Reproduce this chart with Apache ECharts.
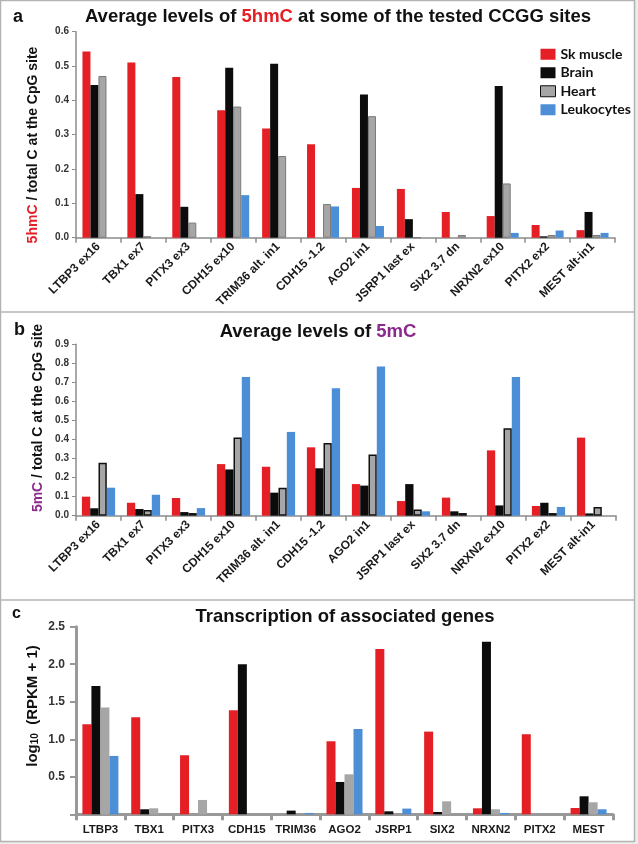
<!DOCTYPE html>
<html><head><meta charset="utf-8">
<script src="https://cdn.jsdelivr.net/npm/echarts@6/dist/echarts.min.js"></script>
<style>html,body{margin:0;padding:0;background:#fff}#c{width:638px;height:844px}</style>
</head><body><div id="c"></div>
<script>
const sites = ['LTBP3 ex16','TBX1 ex7','PITX3 ex3','CDH15 ex10','TRIM36 alt. in1','CDH15 -1.2','AGO2 in1','JSRP1 last ex','SIX2 3.7 dn','NRXN2 ex10','PITX2 ex2','MEST alt-in1'];
const genes = ['LTBP3','TBX1','PITX3','CDH15','TRIM36','AGO2','JSRP1','SIX2','NRXN2','PITX2','MEST'];
const seriesNames = ['Sk muscle','Brain','Heart','Leukocytes'];

// panel a: 5hmC / total C
const hmcSk = [0.542,0.510,0.468,0.371,0.318,0.272,0.145,0.142,0.075,0.063,0.037,0.022];
const hmcBrain = [0.445,0.127,0.090,0.495,0.507,0,0.417,0.054,0,0.442,0.004,0.075];
const hmcHeart = [0.471,0.004,0.044,0.382,0.238,0.098,0.354,0,0.008,0.158,0.008,0.008];
const hmcLeuk = [0,0,0,0.124,0,0.091,0.034,0,0,0.014,0.021,0.014];
const hmcTicks = [0,0.6,0.1];

// panel b: 5mC / total C
const mcSk = [0.100,0.068,0.093,0.271,0.257,0.359,0.166,0.077,0.095,0.343,0.051,0.410];
const mcBrain = [0.039,0.035,0.019,0.243,0.121,0.249,0.158,0.166,0.023,0.054,0.068,0.012];
const mcHeart = [0.278,0.030,0.014,0.410,0.147,0.382,0.322,0.033,0.014,0.459,0.014,0.046];
const mcLeuk = [0.147,0.110,0.040,0.728,0.440,0.669,0.783,0.023,0,0.728,0.046,0];
const mcTicks = [0,0.9,0.1];

// panel c: log10(RPKM+1)
const txSk = [1.200,1.293,0.787,1.387,0,0.973,2.204,1.102,0.080,1.067,0.084];
const txBrain = [1.711,0.067,0,2.000,0.049,0.431,0.040,0.031,2.298,0,0.240];
const txHeart = [1.422,0.080,0.191,0,0,0.533,0,0.173,0.067,0,0.160];
const txLeuk = [0.778,0,0,0,0.018,1.138,0.076,0,0.018,0,0.067];
const txTicks = [0,2.5,0.5];

const RED='#e41f26', BLACK='#0c0c0c', GRAY='#a6a6a6', BLUE='#4d8fd6', PURPLE='#8a2a8c';
const AX='#8c8c8c';
const FONT='"Liberation Sans", Arial, sans-serif';

const chart = echarts.init(document.getElementById('c'), null, {renderer:'canvas'});

function xCat(grid, data, rotate, opts){
  return Object.assign({
    type:'category', gridIndex:grid, data:data,
    axisLine:{lineStyle:{color:AX,width:1.5}},
    axisTick:{show:true,length:5,lineStyle:{color:AX,width:1.5}},
    axisLabel:{interval:0, rotate:rotate, margin:7, fontFamily:FONT, fontWeight:'bold', fontSize:12, color:'#1a1a1a'}
  }, opts||{});
}
function yVal(grid, t, opts){
  return Object.assign({
    type:'value', gridIndex:grid, min:t[0], max:t[1], interval:t[2],
    splitLine:{show:false},
    axisLine:{show:true,lineStyle:{color:AX,width:1.5}},
    axisTick:{show:true,length:4,lineStyle:{color:AX,width:1}},
    axisLabel:{margin:7, fontFamily:FONT, fontWeight:'bold', fontSize:10, color:'#333', formatter:v=>v.toFixed(1)}
  }, opts||{});
}
function bars(name, grid, data, color, w, extra){
  return {
    name:name, type:'bar', xAxisIndex:grid, yAxisIndex:grid, data:data,
    barWidth:w, barGap:'0%', silent:true,
    itemStyle:Object.assign({color:color}, extra||{})
  };
}
function vText(x, y, text, rich){
  return {type:'text', x:x, y:y, rotation:Math.PI/2,
    style:{text:text, textAlign:'center', textVerticalAlign:'middle', rich:rich}};
}
const B14 = 'bold 14px '+FONT;

const option = {
  animation:false,
  textStyle:{fontFamily:FONT},
  graphic:[
    {type:'rect', shape:{x:0,y:0,width:638,height:844}, style:{fill:'#ececec'}, z:-10},
    {type:'rect', shape:{x:0.5,y:0.5,width:634,height:841}, style:{fill:'#fff',stroke:'#b3b3b3',lineWidth:1.5}, z:-9},
    {type:'line', shape:{x1:0,y1:312,x2:635,y2:312}, style:{stroke:'#b3b3b3',lineWidth:1.5}, z:-8},
    {type:'line', shape:{x1:0,y1:600,x2:635,y2:600}, style:{stroke:'#b3b3b3',lineWidth:1.5}, z:-8},
    {type:'text', x:13, y:17, style:{text:'a', font:'bold 18px '+FONT, fill:'#111', textVerticalAlign:'middle'}},
    {type:'text', x:14, y:330, style:{text:'b', font:'bold 18px '+FONT, fill:'#111', textVerticalAlign:'middle'}},
    {type:'text', x:12, y:614, style:{text:'c', font:'bold 16px '+FONT, fill:'#111', textVerticalAlign:'middle'}},
    {type:'text', x:338, y:17, style:{text:'{k|Average levels of }{r|5hmC}{k| at some of the tested CCGG sites}', textAlign:'center', textVerticalAlign:'middle',
      rich:{k:{font:'bold 18.5px '+FONT, fill:'#111'}, r:{font:'bold 18.5px '+FONT, fill:RED}}}},
    {type:'text', x:318, y:332, style:{text:'{k|Average levels of }{p|5mC}', textAlign:'center', textVerticalAlign:'middle',
      rich:{k:{font:'bold 18.5px '+FONT, fill:'#111'}, p:{font:'bold 18.5px '+FONT, fill:PURPLE}}}},
    {type:'text', x:345, y:617, style:{text:'Transcription of associated genes', textAlign:'center', textVerticalAlign:'middle',
      font:'bold 18.5px '+FONT, fill:'#111'}},
    vText(33, 145, '{r|5hmC}{k| / total C at the CpG site}', {r:{font:B14, fill:RED}, k:{font:B14, fill:'#111'}}),
    vText(38, 418, '{p|5mC}{k| / total C at the CpG site}', {p:{font:B14, fill:PURPLE}, k:{font:B14, fill:'#111'}}),
    vText(33, 706, '{k|log}{s|10}{k|  (RPKM + 1)}', {k:{font:'bold 15px '+FONT, fill:'#111'}, s:{font:'bold 10px '+FONT, fill:'#111', verticalAlign:'bottom'}})
  ],
  legend:{
    left:535, top:40, orient:'vertical', itemWidth:15, itemHeight:11, itemGap:0,
    selectedMode:false,
    textStyle:{fontFamily:'Lato, "Open Sans", sans-serif', fontWeight:'bold', fontSize:14, color:'#111', lineHeight:18.5},
    data:[
      {name:'Sk muscle', icon:'rect', itemStyle:{color:RED}},
      {name:'Brain', icon:'rect', itemStyle:{color:BLACK}},
      {name:'Heart', icon:'rect', itemStyle:{color:GRAY, borderColor:'#111', borderWidth:1}},
      {name:'Leukocytes', icon:'rect', itemStyle:{color:BLUE}}
    ]
  },
  grid:[
    {left:76, top:31.7, width:539, height:206},
    {left:76, top:344.3, width:540, height:171.4},
    {left:76, top:626.7, width:537, height:187.6}
  ],
  xAxis:[
    xCat(0, sites, 45),
    xCat(1, sites, 45),
    xCat(2, genes, 0, {
      axisLine:{lineStyle:{color:'#999',width:3}},
      axisTick:{show:true,length:6,lineStyle:{color:'#999',width:3}},
      axisLabel:{interval:0, margin:10, fontFamily:FONT, fontWeight:'bold', fontSize:11.5, color:'#1a1a1a'}
    })
  ],
  yAxis:[
    yVal(0, hmcTicks),
    yVal(1, mcTicks),
    yVal(2, txTicks, {
      axisLine:{show:true,lineStyle:{color:'#999',width:3}},
      axisTick:{show:true,length:6,lineStyle:{color:'#999',width:2}},
      axisLabel:{margin:11, fontFamily:FONT, fontWeight:'bold', fontSize:12, color:'#333', formatter:v=> v===0 ? '' : v.toFixed(1)}
    })
  ],
  series:[
    bars('Sk muscle',0,hmcSk,RED,8),
    bars('Brain',0,hmcBrain,BLACK,8),
    bars('Heart',0,hmcHeart,GRAY,8,{borderColor:'#7a7a7a',borderWidth:1}),
    bars('Leukocytes',0,hmcLeuk,BLUE,8),
    bars('Sk muscle',1,mcSk,RED,8.3),
    bars('Brain',1,mcBrain,BLACK,8.3),
    bars('Heart',1,mcHeart,GRAY,8.3,{borderColor:'#111',borderWidth:1.5}),
    bars('Leukocytes',1,mcLeuk,BLUE,8.3),
    bars('Sk muscle',2,txSk,RED,9),
    bars('Brain',2,txBrain,BLACK,9),
    bars('Heart',2,txHeart,GRAY,9),
    bars('Leukocytes',2,txLeuk,BLUE,9)
  ]
};
chart.setOption(option);
</script></body></html>
